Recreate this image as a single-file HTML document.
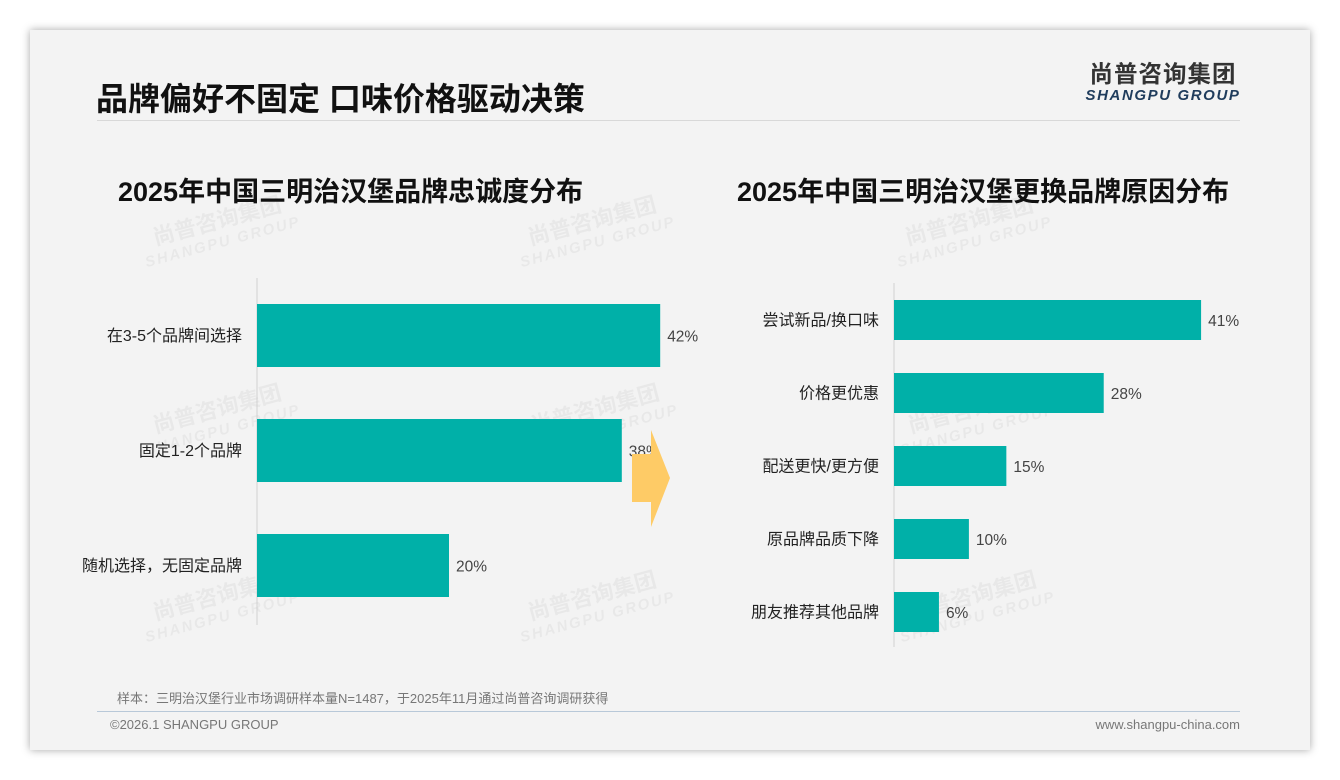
<!DOCTYPE html>
<html><head><meta charset="utf-8"><style>
*{margin:0;padding:0;box-sizing:border-box}
body{width:1340px;height:780px;background:#fff;position:relative;overflow:hidden;font-family:"Liberation Sans","Noto Sans CJK SC",sans-serif}
#slide{position:absolute;left:30px;top:30px;width:1280px;height:720px;background:#f3f3f3;box-shadow:0 0 8px rgba(0,0,0,0.35)}
.abs{position:absolute}
.wm{position:absolute;color:rgba(0,0,0,0.045);font-weight:bold;transform:rotate(-15deg);font-size:22px;line-height:22px;text-align:center}
.wm span{display:block;font-size:15px;font-style:italic;letter-spacing:2px}
</style></head><body>
<div id="slide"></div>
<div class="abs" style="left:96px;top:74px;font-size:32px;font-weight:bold;color:#111">品牌偏好不固定 口味价格驱动决策</div>
<div class="abs" style="left:1084px;top:61px;width:158px;text-align:center">
<div style="font-size:23.5px;font-weight:bold;color:#333;letter-spacing:1px;line-height:26px">尚普咨询集团</div>
<div style="font-size:15px;font-weight:bold;font-style:italic;color:#1f3c5c;letter-spacing:1.6px;line-height:17px">SHANGPU GROUP</div></div>
<div class="abs" style="left:97px;top:120px;width:1143px;height:1px;background:#d8d8d8"></div>
<div class="wm" style="left:140px;top:210px">尚普咨询集团<span>SHANGPU GROUP</span></div>
<div class="wm" style="left:515px;top:210px">尚普咨询集团<span>SHANGPU GROUP</span></div>
<div class="wm" style="left:892px;top:210px">尚普咨询集团<span>SHANGPU GROUP</span></div>
<div class="wm" style="left:140px;top:398px">尚普咨询集团<span>SHANGPU GROUP</span></div>
<div class="wm" style="left:518px;top:398px">尚普咨询集团<span>SHANGPU GROUP</span></div>
<div class="wm" style="left:895px;top:398px">尚普咨询集团<span>SHANGPU GROUP</span></div>
<div class="wm" style="left:140px;top:585px">尚普咨询集团<span>SHANGPU GROUP</span></div>
<div class="wm" style="left:515px;top:585px">尚普咨询集团<span>SHANGPU GROUP</span></div>
<div class="wm" style="left:895px;top:585px">尚普咨询集团<span>SHANGPU GROUP</span></div>
<div class="abs" style="left:118px;top:170px;font-size:27px;font-weight:bold;color:#111">2025年中国三明治汉堡品牌忠诚度分布</div>
<div class="abs" style="left:737px;top:170px;font-size:27px;font-weight:bold;color:#111">2025年中国三明治汉堡更换品牌原因分布</div>
<svg id="chart" class="abs" style="left:0;top:0" width="1340" height="780"></svg>
<div class="abs" style="left:117px;top:688px;font-size:13px;color:#777">样本：三明治汉堡行业市场调研样本量N=1487，于2025年11月通过尚普咨询调研获得</div>
<div class="abs" style="left:97px;top:711px;width:1143px;height:1px;background:#b8c8d8"></div>
<div class="abs" style="left:110px;top:717px;font-size:13px;color:#777">©2026.1 SHANGPU GROUP</div>
<div class="abs" style="left:1040px;top:717px;font-size:13px;color:#777;width:200px;text-align:right">www.shangpu-china.com</div>
<script>
const leftCats=["在3-5个品牌间选择","固定1-2个品牌","随机选择，无固定品牌"];
const leftVals=[42,38,20];
const rightCats=["尝试新品/换口味","价格更优惠","配送更快/更方便","原品牌品质下降","朋友推荐其他品牌"];
const rightVals=[41,28,15,10,6];
const NS="http://www.w3.org/2000/svg";
const svg=document.getElementById('chart');
function mk(t,a){const e=document.createElementNS(NS,t);for(const k in a)e.setAttribute(k,a[k]);svg.appendChild(e);return e;}
function drawChart(cats,vals,x0,yTop,yBot,pxPer,bandStart,band,barH,prefix){
  const ax=mk('line',{x1:x0,x2:x0,y1:yTop,y2:yBot,stroke:'#d0d0d0','stroke-width':1});
  
  
  cats.forEach((c,i)=>{
    const y=bandStart+i*band;
    const w=vals[i]*pxPer;
    const r=mk('rect',{x:x0,y:y,width:w,height:barH,fill:'#00b0a8'});
    
    
    const l=mk('text',{x:x0-15,y:y+barH/2+5.5,'text-anchor':'end','font-size':16,fill:'#222'});
    l.textContent=c;
    
    
    const v=mk('text',{x:x0+w+7,y:y+barH/2+6,'font-size':15.5,fill:'#444'});
    v.textContent=vals[i]+'%';
    
    
  });
}
drawChart(leftCats,leftVals,257,278,625,9.6,304,115,63,'left');
drawChart(rightCats,rightVals,894,283,647,7.49,300,73,40,'right');
const arrow=mk('polygon',{points:'632,454 651,454 651,430 670,478 651,527 651,502 632,502',fill:'#fecb66'});


</script>
</body></html>
